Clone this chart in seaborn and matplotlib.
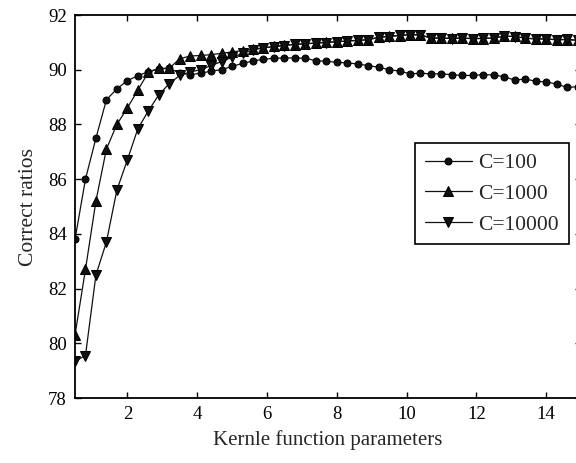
import matplotlib
matplotlib.use("Agg")
import matplotlib.pyplot as plt
import seaborn as sns
import pandas as pd

# kernel parameter values (x axis)
kernel_params = [0.5, 0.8, 1.1, 1.4, 1.7, 2.0, 2.3, 2.6, 2.9, 3.2, 3.5, 3.8, 4.1, 4.4, 4.7,
                 5.0, 5.3, 5.6, 5.9, 6.2, 6.5, 6.8, 7.1, 7.4, 7.7, 8.0, 8.3, 8.6, 8.9, 9.2,
                 9.5, 9.8, 10.1, 10.4, 10.7, 11.0, 11.3, 11.6, 11.9, 12.2, 12.5, 12.8, 13.1,
                 13.4, 13.7, 14.0, 14.3, 14.6, 14.9]

# correct ratios
c100 = [83.8, 86.0, 87.5, 88.9, 89.3, 89.6, 89.78, 89.93, 90.03, 90.05, 89.88, 89.82, 89.87,
        89.95, 90.0, 90.12, 90.23, 90.32, 90.38, 90.42, 90.43, 90.43, 90.42, 90.33, 90.31,
        90.27, 90.25, 90.21, 90.15, 90.09, 90.0, 89.95, 89.85, 89.87, 89.85, 89.85, 89.82,
        89.79, 89.79, 89.82, 89.81, 89.74, 89.62, 89.66, 89.58, 89.55, 89.48, 89.35, 89.38]

c1000 = [80.3, 82.7, 85.2, 87.1, 88.0, 88.6, 89.25, 89.9, 90.05, 90.05, 90.4, 90.5, 90.52,
         90.55, 90.6, 90.65, 90.7, 90.75, 90.8, 90.85, 90.9, 90.92, 90.95, 90.97, 91.0,
         91.02, 91.05, 91.07, 91.1, 91.18, 91.22, 91.25, 91.28, 91.27, 91.16, 91.15, 91.15,
         91.15, 91.14, 91.14, 91.16, 91.22, 91.22, 91.15, 91.13, 91.12, 91.1, 91.1, 91.08]

c10000 = [79.35, 79.55, 82.5, 83.7, 85.6, 86.7, 87.84, 88.49, 89.08, 89.49, 89.79, 89.92, 90.0,
          90.15, 90.3, 90.45, 90.6, 90.72, 90.8, 90.84, 90.88, 90.93, 90.94, 90.98, 90.99,
          91.03, 91.04, 91.08, 91.09, 91.19, 91.21, 91.26, 91.27, 91.28, 91.15, 91.16, 91.14,
          91.16, 91.13, 91.15, 91.15, 91.23, 91.21, 91.16, 91.12, 91.13, 91.09, 91.11, 91.07]

df = pd.DataFrame({"param": kernel_params, "C=100": c100, "C=1000": c1000, "C=10000": c10000})

sns.set_theme(style="ticks")
plt.rcParams["font.family"] = ["Liberation Serif", "DejaVu Serif"]

fig = plt.figure(figsize=(5.76, 4.63), dpi=100)
ax = fig.add_axes([75 / 576, 65 / 463, 506 / 576, 383 / 463])

# one call per series, black lines with different markers
sns.lineplot(data=df, x="param", y="C=100", ax=ax, color="#111111", linewidth=0.9,
             marker="o", markersize=5, markeredgecolor="black", label="C=100")
sns.lineplot(data=df, x="param", y="C=1000", ax=ax, color="#111111", linewidth=0.9,
             marker="^", markersize=7.5, markeredgecolor="black", label="C=1000")
sns.lineplot(data=df, x="param", y="C=10000", ax=ax, color="#111111", linewidth=0.9,
             marker="v", markersize=7.5, markeredgecolor="black", label="C=10000")

ax.set_xlim(0.5, 15)
ax.set_ylim(78, 92)
ax.set_xticks([2, 4, 6, 8, 10, 12, 14])
ax.set_yticks([78, 80, 82, 84, 86, 88, 90, 92])
ax.tick_params(direction="in", top=True, right=True, length=4, width=1,
               labelsize=13.5, colors="black", pad=6)
for side in ax.spines.values():
    side.set_linewidth(1.3)
    side.set_color("black")

ax.set_xlabel("Kernle function parameters", fontsize=15, labelpad=5)
ax.set_ylabel("Correct ratios", fontsize=15.5, labelpad=7)

leg = ax.legend(loc="upper left", bbox_to_anchor=(0.672, 0.665), fontsize=15.5,
                frameon=True, fancybox=False, edgecolor="black", framealpha=1,
                handlelength=2.2, handletextpad=0.3, labelspacing=0.5, borderpad=0.45,
                borderaxespad=0)
leg.get_frame().set_linewidth(1.2)

fig.savefig("out.png", dpi=100)
